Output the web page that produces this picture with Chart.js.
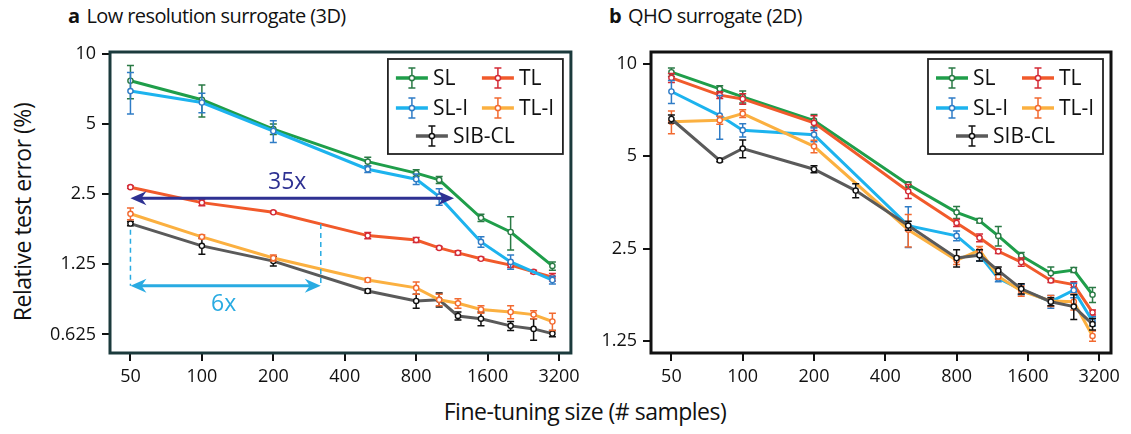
<!DOCTYPE html>
<html>
<head>
<meta charset="utf-8">
<script src="https://cdn.jsdelivr.net/npm/chart.js@4.4.1/dist/chart.umd.min.js"></script>
<style>
  body { margin: 0; background: #fff; width: 1131px; height: 434px; position: relative; overflow: hidden; font-family: "Open Sans", sans-serif; color: #111; }
  canvas { position: absolute; top: 0; }
  #chartA { left: 0; }
  #chartB { left: 585px; }
  .title { position: absolute; top: 2px; font-size: 20px; white-space: nowrap; letter-spacing: -0.6px; }
  .title b { margin-right: 7px; }
  #ylab { position: absolute; left: 22px; top: 212px; transform: translate(-50%, -50%) rotate(-90deg); font-size: 23px; white-space: nowrap; letter-spacing: -0.5px; }
  #xlab { position: absolute; left: 585px; top: 411px; transform: translate(-50%, -50%); font-size: 23px; white-space: nowrap; letter-spacing: -0.5px; }
</style>
</head>
<body>
<div class="title" style="left:68px"><b>a</b>Low resolution surrogate (3D)</div>
<div class="title" style="left:609px"><b>b</b>QHO surrogate (2D)</div>
<div id="ylab">Relative test error (%)</div>
<div id="xlab">Fine-tuning size (# samples)</div>
<canvas id="chartA" width="585" height="400"></canvas>
<canvas id="chartB" width="546" height="400"></canvas>
<script>
// axis ticks
const xTicks = [50, 100, 200, 400, 800, 1600, 3200];
const aYTicks = [0.625, 1.25, 2.5, 5, 10];
const bYTicks = [1.25, 2.5, 5, 10];

const seriesNames = ['SL', 'TL', 'SL-I', 'TL-I', 'SIB-CL'];
const lineColors = ['#1f9e4a', '#f15a2b', '#1db3ee', '#fbb040', '#5a5a5a'];
const barColors = ['#2a7a45', '#d42a35', '#2f7cc6', '#f26a30', '#111111'];

// panel a: low resolution surrogate (3D)
const aSizesSL = [50, 100, 200, 500, 800, 1000, 1500, 2000, 3000];
const aSizesTL = [50, 100, 200, 500, 800, 1000, 1200, 1500, 2000, 2500, 3000];
const aSL     = [7.68, 6.36, 4.76, 3.45, 3.08, 2.88, 1.98, 1.72, 1.23];
const aSLErr  = [1.25, 1.0, 0.25, 0.15, 0.1, 0.1, 0.07, 0.28, 0.05];
const aSLI    = [6.93, 6.19, 4.67, 3.20, 2.90, 2.44, 1.56, 1.28, 1.07];
const aSLIErr = [1.4, 0.6, 0.5, 0.1, 0.15, 0.2, 0.08, 0.09, 0.04];
const aTL     = [2.68, 2.30, 2.09, 1.66, 1.59, 1.47, 1.40, 1.32, 1.24, 1.16, 1.10];
const aTLErr  = [0.03, 0.07, 0.02, 0.05, 0.04, 0.02, 0.03, 0.02, 0.03, 0.02, 0.04];
const aTLI    = [2.06, 1.64, 1.33, 1.07, 0.99, 0.88, 0.85, 0.80, 0.78, 0.76, 0.71];
const aTLIErr = [0.12, 0.03, 0.04, 0.02, 0.06, 0.05, 0.04, 0.03, 0.05, 0.03, 0.06];
const aSIB    = [1.87, 1.50, 1.29, 0.96, 0.87, 0.88, 0.75, 0.73, 0.68, 0.66, 0.63];
const aSIBErr = [0.04, 0.12, 0.06, 0.02, 0.06, 0.06, 0.03, 0.05, 0.03, 0.07, 0.02];

// panel b: QHO surrogate (2D)
const bSizes    = [50, 80, 100, 200, 500, 800, 1000, 1200, 1500, 2000, 2500, 3000];
const bSizesSIB = [50, 80, 100, 200, 300, 500, 800, 1000, 1200, 1500, 2000, 2500, 3000];
const bSL     = [9.37, 8.27, 7.79, 6.52, 4.04, 3.28, 3.08, 2.75, 2.37, 2.08, 2.13, 1.77];
const bSLErr  = [0.3, 0.2, 0.35, 0.3, 0.08, 0.15, 0.05, 0.2, 0.06, 0.1, 0.04, 0.1];
const bTL     = [8.98, 7.89, 7.67, 6.41, 3.84, 3.03, 2.71, 2.45, 2.26, 1.97, 1.91, 1.55];
const bTLErr  = [0.3, 0.2, 0.3, 0.35, 0.2, 0.08, 0.08, 0.04, 0.07, 0.03, 0.04, 0.03];
const bSLI    = [8.11, 6.77, 6.07, 5.87, 2.97, 2.75, 2.38, 2.00, 1.84, 1.68, 1.83, 1.45];
const bSLIErr = [0.7, 1.1, 0.3, 0.3, 0.45, 0.1, 0.1, 0.05, 0.07, 0.08, 0.1, 0.05];
const bTLI    = [6.46, 6.54, 6.87, 5.38, 2.88, 2.29, 2.47, 2.03, 1.82, 1.69, 1.68, 1.30];
const bTLIErr = [0.55, 0.2, 0.2, 0.25, 0.35, 0.07, 0.07, 0.04, 0.07, 0.07, 0.1, 0.05];
const bSIB    = [6.6, 4.84, 5.29, 4.53, 3.86, 2.97, 2.33, 2.38, 2.12, 1.85, 1.68, 1.62, 1.42];
const bSIBErr = [0.2, 0.05, 0.35, 0.12, 0.2, 0.1, 0.15, 0.1, 0.06, 0.07, 0.05, 0.15, 0.06];

const FONT = '"Open Sans", sans-serif';

function makeSet(i, xs, ys, errs) {
    return {
        label: seriesNames[i],
        data: xs.map((x, k) => ({ x: x, y: ys[k] })),
        errs: errs,
        borderColor: lineColors[i],
        barColor: barColors[i],
        borderWidth: 3,
        pointRadius: 2.6,
        pointBorderWidth: 1.4,
        pointBackgroundColor: '#fff',
        pointBorderColor: barColors[i],
        tension: 0,
        fill: false
    };
}

// error bars drawn under each line
const errorBars = {
    id: 'errorBars',
    beforeDatasetDraw(chart, args) {
        const ds = chart.data.datasets[args.index];
        if (!ds.errs) return;
        const y = chart.scales.y;
        const ctx = chart.ctx;
        ctx.save();
        ctx.strokeStyle = ds.barColor;
        ctx.lineWidth = 1.5;
        args.meta.data.forEach((pt, k) => {
            const v = ds.data[k].y, e = ds.errs[k];
            const top = y.getPixelForValue(v + e);
            const bot = y.getPixelForValue(Math.max(v - e, 0.05));
            ctx.beginPath();
            ctx.moveTo(pt.x, top); ctx.lineTo(pt.x, bot);
            ctx.moveTo(pt.x - 3.5, top); ctx.lineTo(pt.x + 3.5, top);
            ctx.moveTo(pt.x - 3.5, bot); ctx.lineTo(pt.x + 3.5, bot);
            ctx.stroke();
        });
        ctx.restore();
    }
};

// frame around the plot area
const frame = {
    id: 'frame',
    afterDraw(chart, args, opts) {
        const a = chart.chartArea, ctx = chart.ctx;
        ctx.save();
        ctx.strokeStyle = opts.color;
        ctx.lineWidth = 3;
        ctx.strokeRect(a.left, a.top, a.right - a.left, a.bottom - a.top);
        ctx.restore();
    }
};

// legend: two columns, SIB-CL centered on third row
const boxLegend = {
    id: 'boxLegend',
    afterDraw(chart, args, opts) {
        const ctx = chart.ctx;
        const bx = chart.chartArea.right - opts.right - 175, by = chart.chartArea.top + opts.top;
        ctx.save();
        ctx.fillStyle = '#fff';
        ctx.fillRect(bx, by, 175, 95);
        ctx.strokeStyle = '#222';
        ctx.lineWidth = 1.8;
        ctx.strokeRect(bx, by, 175, 95);
        const slots = [[8, 19], [94, 19], [8, 49], [94, 49], [28, 77]];
        ctx.font = '21px ' + FONT;
        ctx.textBaseline = 'middle';
        seriesNames.forEach((name, i) => {
            const lx = bx + slots[i][0], ly = by + slots[i][1];
            const w = 32, cx = lx + w / 2;
            ctx.strokeStyle = lineColors[i];
            ctx.lineWidth = 3.5;
            ctx.beginPath(); ctx.moveTo(lx, ly); ctx.lineTo(lx + w, ly); ctx.stroke();
            ctx.strokeStyle = barColors[i];
            ctx.lineWidth = 1.5;
            ctx.beginPath();
            ctx.moveTo(cx, ly - 10); ctx.lineTo(cx, ly + 10);
            ctx.moveTo(cx - 3.5, ly - 10); ctx.lineTo(cx + 3.5, ly - 10);
            ctx.moveTo(cx - 3.5, ly + 10); ctx.lineTo(cx + 3.5, ly + 10);
            ctx.stroke();
            ctx.fillStyle = '#fff';
            ctx.beginPath(); ctx.arc(cx, ly, 2.6, 0, Math.PI * 2); ctx.fill(); ctx.stroke();
            ctx.fillStyle = '#111';
            ctx.fillText(name, lx + w + 5, ly + 1);
        });
        ctx.restore();
    }
};

// double arrows with labels (panel a)
const arrows = {
    id: 'arrows',
    afterDatasetsDraw(chart, args, opts) {
        if (!opts.items) return;
        const xs = chart.scales.x, ys = chart.scales.y, ctx = chart.ctx;
        ctx.save();
        opts.items.forEach(a => {
            const x1 = xs.getPixelForValue(a.from), x2 = xs.getPixelForValue(a.to);
            const yy = ys.getPixelForValue(a.at);
            ctx.strokeStyle = a.color; ctx.fillStyle = a.color;
            ctx.lineWidth = 1.5;
            ctx.setLineDash([5, 4]);
            (a.dashes || []).forEach(d => {
                const dx = xs.getPixelForValue(d[0]);
                ctx.beginPath(); ctx.moveTo(dx, ys.getPixelForValue(d[1])); ctx.lineTo(dx, yy); ctx.stroke();
            });
            ctx.setLineDash([]);
            ctx.lineWidth = 3;
            ctx.beginPath(); ctx.moveTo(x1 + 8, yy); ctx.lineTo(x2 - 8, yy); ctx.stroke();
            [[x1, 1], [x2, -1]].forEach(([px, dir]) => {
                ctx.beginPath();
                ctx.moveTo(px, yy);
                ctx.lineTo(px + dir * 16, yy - 7);
                ctx.lineTo(px + dir * 11, yy);
                ctx.lineTo(px + dir * 16, yy + 7);
                ctx.closePath(); ctx.fill();
            });
            ctx.font = '23px ' + FONT;
            ctx.textAlign = 'center';
            ctx.textBaseline = 'middle';
            ctx.fillText(a.text, (x1 + x2) / 2 + a.dx, yy + a.dy);
        });
        ctx.restore();
    }
};

function makeOptions(yTicks, yMin, yMax, yWidth, padRight, frameColor, arrowItems) {
    const tickGrid = { display: true, drawOnChartArea: false, drawTicks: true, tickLength: 8, color: '#111', lineWidth: 2 };
    return {
        responsive: false,
        animation: false,
        layout: { padding: { top: 52, right: padRight, left: 0, bottom: 0 } },
        plugins: {
            legend: { display: false },
            tooltip: { enabled: false },
            frame: { color: frameColor },
            boxLegend: { right: 8, top: 7 },
            arrows: { items: arrowItems }
        },
        scales: {
            x: {
                type: 'logarithmic',
                min: 41, max: 3590,
                grid: tickGrid,
                border: { display: false },
                afterBuildTicks: s => { s.ticks = xTicks.map(v => ({ value: v })); },
                afterFit: s => { s.height = 47; },
                ticks: { color: '#111', font: { family: FONT, size: 18 }, padding: 5, maxRotation: 0, autoSkip: false, callback: v => String(v) }
            },
            y: {
                type: 'logarithmic',
                min: yMin, max: yMax,
                grid: tickGrid,
                border: { display: false },
                afterBuildTicks: s => { s.ticks = yTicks.map(v => ({ value: v })); },
                afterFit: s => { s.width = yWidth; },
                ticks: { color: '#111', font: { family: FONT, size: 18 }, padding: 6, autoSkip: false, callback: v => String(v) }
            }
        }
    };
}

new Chart(document.getElementById('chartA'), {
    type: 'line',
    data: {
        datasets: [
            makeSet(2, aSizesSL, aSLI, aSLIErr),
            makeSet(0, aSizesSL, aSL, aSLErr),
            makeSet(1, aSizesTL, aTL, aTLErr),
            makeSet(3, aSizesTL, aTLI, aTLIErr),
            makeSet(4, aSizesTL, aSIB, aSIBErr)
        ]
    },
    options: makeOptions(aYTicks, 0.52, 10.2, 110, 14, '#1b3a3c', [
        { from: 50, to: 1155, at: 2.40, color: '#2e3192', text: '35x', dx: -5, dy: -16 },
        { from: 50, to: 317, at: 1.01, color: '#29abe2', text: '6x', dx: -2, dy: 19, dashes: [[50, 1.76], [317, 1.86]] }
    ]),
    plugins: [errorBars, frame, boxLegend, arrows]
});

new Chart(document.getElementById('chartB'), {
    type: 'line',
    data: {
        datasets: [
            makeSet(4, bSizesSIB, bSIB, bSIBErr),
            makeSet(3, bSizes, bTLI, bTLIErr),
            makeSet(2, bSizes, bSLI, bSLIErr),
            makeSet(1, bSizes, bTL, bTLErr),
            makeSet(0, bSizes, bSL, bSLErr)
        ]
    },
    options: makeOptions(bYTicks, 1.144, 10.9, 66, 20, '#111', null),
    plugins: [errorBars, frame, boxLegend, arrows]
});
</script>
</body>
</html>
